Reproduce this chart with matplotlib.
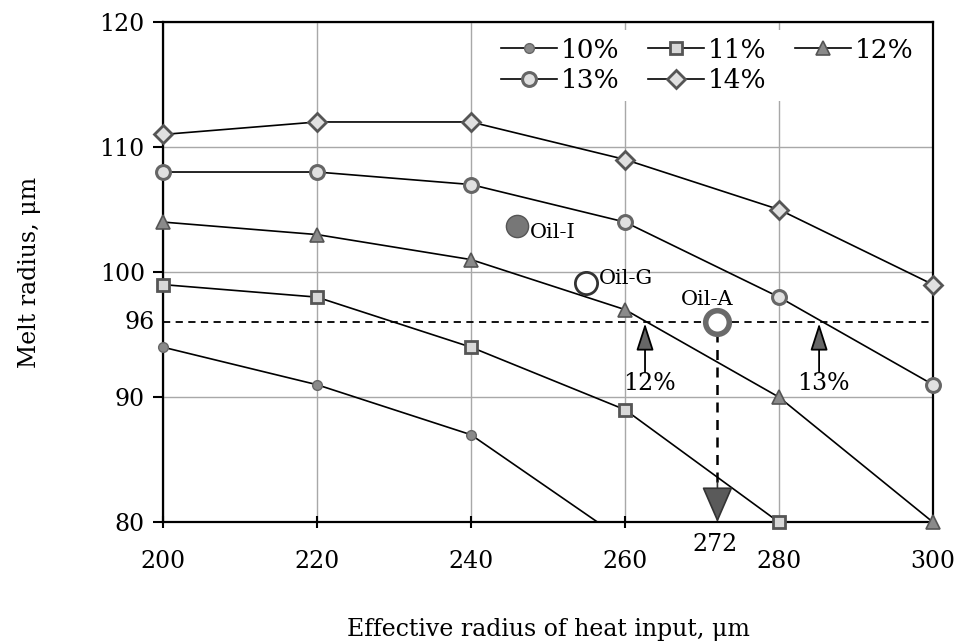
import matplotlib.pyplot as plt
import numpy as np

plt.rcParams['font.family'] = ['DejaVu Serif']

x = [200, 220, 240, 260, 280, 300]
s10 = [94, 91, 87, 78.5, None, None]
s11 = [99, 98, 94, 89, 80, None]
s12 = [104, 103, 101, 97, 90, 80]
s13 = [108, 108, 107, 104, 98, 91]
s14 = [111, 112, 112, 109, 105, 99]
labels = ["10%", "11%", "12%", "13%", "14%"]

oils = ["Oil-I", "Oil-G", "Oil-A"]
oil_x = [246, 255, 272]
oil_y = [103.7, 99.1, 96]

cross12 = 262.6
cross13 = 285.2
level = 96

fig = plt.figure(figsize=(9.58, 6.44), dpi=100)
ax = fig.add_axes([0.170, 0.189, 0.804, 0.777])

styles = [
    dict(marker="o", ms=7, mfc="#8a8a8a", mec="#666666", mew=1),
    dict(marker="s", ms=9, mfc="#d8d8d8", mec="#555555", mew=2),
    dict(marker="^", ms=10, mfc="#8a8a8a", mec="#555555", mew=1.2),
    dict(marker="o", ms=10, mfc="#e0e0e0", mec="#666666", mew=2.2),
    dict(marker="D", ms=9, mfc="#e0e0e0", mec="#555555", mew=2),
]
handles = []
for s, lab, st in zip([s10, s11, s12, s13, s14], labels, styles):
    xs = np.array([a for a, b in zip(x, s) if b is not None])
    ys = np.array([b for b in s if b is not None])
    ax.plot(xs, ys, color="black", lw=1.2, zorder=3)
    inside = ys >= 80
    ax.plot(xs[inside], ys[inside], ls="none", zorder=4, clip_on=False, **st)
    h, = ax.plot([], [], color="black", lw=1.2, **st)
    handles.append(h)

# oil points
ax.plot(oil_x[0], oil_y[0], "o", ms=16, mfc="#777777", mec="#555555", mew=1, zorder=5)
ax.plot(oil_x[1], oil_y[1], "o", ms=16, mfc="white", mec="#333333", mew=2, zorder=5)
ax.plot(oil_x[2], oil_y[2], "o", ms=17, mfc="white", mec="#6a6a6a", mew=4, zorder=5)
ax.text(oil_x[0] + 1.7, oil_y[0] - 0.5, oils[0], fontsize=15, va="center")
ax.text(oil_x[1] + 1.6, oil_y[1] + 0.4, oils[1], fontsize=15, va="center")
ax.text(oil_x[2] - 1.3, oil_y[2] + 1.8, oils[2], fontsize=15, ha="center", va="center")

# dashed guides
ax.plot([200, 300], [level, level], ls=(0, (4, 3)), color="black", lw=1.3, zorder=2)
ax.plot([oil_x[2], oil_x[2]], [oil_y[2] - 0.8, 83], ls=(0, (4, 3)), color="black", lw=1.8, zorder=2)
ax.annotate("", xy=(oil_x[2], 80), xytext=(oil_x[2], 83.2),
            arrowprops=dict(arrowstyle="-|>,head_length=1.15,head_width=0.5", mutation_scale=20,
                            lw=1.2, color="#333333", fc="#5a5a5a", shrinkA=0, shrinkB=0), zorder=4)
for cx, lab in [(cross12, "12%"), (cross13, "13%")]:
    ax.annotate("", xy=(cx, level - 0.1), xytext=(cx, level - 4),
                arrowprops=dict(arrowstyle="-|>,head_length=1.4,head_width=0.45", mutation_scale=12,
                                lw=1.3, color="black", fc="#666666", shrinkA=0, shrinkB=0), zorder=4)
    ax.text(cx + 0.6, level - 4.9, lab, fontsize=17, ha="center", va="center")

ax.text(199, level, "96", fontsize=17, ha="right", va="center")
ax.text(oil_x[2] - 0.3, 78.2, "272", fontsize=17, ha="center", va="center", clip_on=False)

ax.set_xlim(200, 300)
ax.set_ylim(80, 120)
ax.set_xticks(range(200, 301, 20))
ax.set_yticks(range(80, 121, 10))
ax.tick_params(labelsize=17)
ax.tick_params(axis="x", direction="inout", length=8, width=1.5, pad=16)
ax.tick_params(axis="y", direction="out", length=7, width=1.5, pad=6)
ax.grid(True, color="#a8a8a8", lw=1)
ax.set_axisbelow(True)
for sp in ax.spines.values():
    sp.set_linewidth(1.6)
    sp.set_color("black")

ax.set_xlabel("Effective radius of heat input, μm", fontsize=17, labelpad=32)
ax.set_ylabel("Melt radius, μm", fontsize=17, labelpad=42)

order = [0, 3, 1, 4, 2]
leg = ax.legend([handles[i] for i in order], [labels[i] for i in order], ncol=3,
                loc="upper right", bbox_to_anchor=(0.995, 1.0), fontsize=19,
                frameon=True, edgecolor="none", framealpha=1, handlelength=2.1,
                handletextpad=0.15, columnspacing=1.1, labelspacing=0.2, borderaxespad=0.3,
                borderpad=0.3)

fig.savefig("out.png", dpi=100)
